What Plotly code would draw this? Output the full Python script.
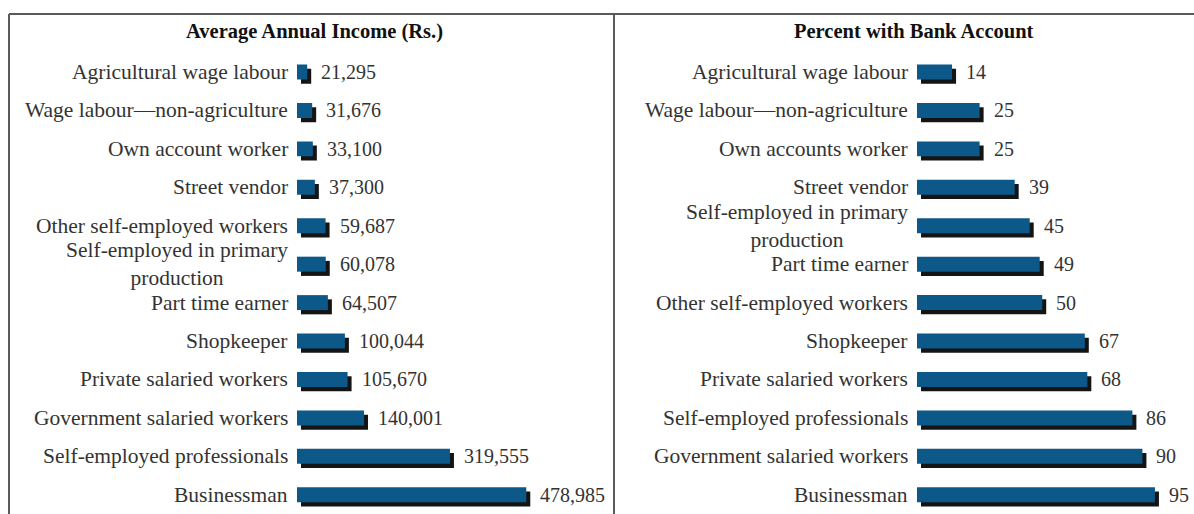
import plotly.graph_objects as go

W, H = 1194, 514

# ---- data ----
income_labels = [
    "Agricultural wage labour",
    "Wage labour\u2014non-agriculture",
    "Own account worker",
    "Street vendor",
    "Other self-employed workers",
    "Self-employed in primary<br>production",
    "Part time earner",
    "Shopkeeper",
    "Private salaried workers",
    "Government salaried workers",
    "Self-employed professionals",
    "Businessman",
]
income_values = [21295, 31676, 33100, 37300, 59687, 60078, 64507,
                 100044, 105670, 140001, 319555, 478985]

bank_labels = [
    "Agricultural wage labour",
    "Wage labour\u2014non-agriculture",
    "Own accounts worker",
    "Street vendor",
    "Self-employed in primary<br>production",
    "Part time earner",
    "Other self-employed workers",
    "Shopkeeper",
    "Private salaried workers",
    "Self-employed professionals",
    "Government salaried workers",
    "Businessman",
]
bank_values = [14, 25, 25, 39, 45, 49, 50, 67, 68, 86, 90, 95]

titles = ["Average Annual Income (Rs.)", "Percent with Bank Account"]

# ---- style ----
FONT = "Liberation Serif"
BAR = "#0c5889"
SHADOW = "#141414"
TEXT = "#333333"
FRAME = "#5a5a5a"

L_DOM = [297 / W, 600 / W]
L_MAX = 633000
R_DOM = [917 / W, 1.0]
R_MAX = 110.6
Y_DOM = [0, 0.8973]
ROW_W = 0.39          # bar thickness in category units
SHADOW_DY = 0.11      # downward shift of the drop shadow (category units)
SHADOW_PX = 4         # rightward shift of the drop shadow (pixels)


def px_units(px, dom, rmax):
    return px * rmax / ((dom[1] - dom[0]) * W)


fig = go.Figure()

panels = [
    (income_labels, income_values, "x", "y", L_DOM, L_MAX, lambda v: f"{v:,}"),
    (bank_labels, bank_values, "x2", "y2", R_DOM, R_MAX, lambda v: f"{v}"),
]

annotations = []
for labels, values, xa, ya, dom, rmax, fmt in panels:
    dx = px_units(SHADOW_PX, dom, rmax)
    fig.add_trace(go.Bar(
        x=values, y=labels, base=dx, orientation="h",
        width=ROW_W, offset=-ROW_W / 2 + SHADOW_DY,
        marker=dict(color=SHADOW, line=dict(width=0)),
        xaxis=xa, yaxis=ya, hoverinfo="skip", showlegend=False,
    ))
    fig.add_trace(go.Bar(
        x=values, y=labels, orientation="h",
        width=ROW_W, offset=-ROW_W / 2,
        marker=dict(color=BAR, line=dict(width=0)),
        xaxis=xa, yaxis=ya, showlegend=False,
    ))
    for lab, v in zip(labels, values):
        annotations.append(dict(
            x=0, y=lab, xref=xa, yref=ya, text=lab, showarrow=False,
            xanchor="right", yanchor="middle", align="center", xshift=-7,
            font=dict(family=FONT, size=21.5, color=TEXT),
        ))
        annotations.append(dict(
            x=v, y=lab, xref=xa, yref=ya, text=fmt(v), showarrow=False,
            xanchor="left", yanchor="middle", xshift=12,
            font=dict(family=FONT, size=20, color=TEXT),
        ))

for t, cx in zip(titles, [314 / W, 914 / W]):
    annotations.append(dict(
        x=cx, y=1 - 31 / H, xref="paper", yref="paper", text=t,
        showarrow=False, xanchor="center", yanchor="middle",
        font=dict(family=FONT, size=20.5, color="#111111", weight="bold"),
    ))

axis_off = dict(showgrid=False, zeroline=False, showticklabels=False,
                ticks="", showline=False, fixedrange=True)

fig.update_layout(
    width=W, height=H,
    margin=dict(l=0, r=0, t=0, b=0),
    paper_bgcolor="white", plot_bgcolor="rgba(0,0,0,0)",
    barmode="overlay",
    xaxis=dict(domain=L_DOM, range=[0, L_MAX], anchor="y", **axis_off),
    yaxis=dict(domain=Y_DOM, range=[11.5, -0.5], anchor="x", type="category", **axis_off),
    xaxis2=dict(domain=R_DOM, range=[0, R_MAX], anchor="y2", **axis_off),
    yaxis2=dict(domain=Y_DOM, range=[11.5, -0.5], anchor="x2", type="category", **axis_off),
    annotations=annotations,
    shapes=[
        dict(type="line", xref="paper", yref="paper", x0=9 / W, x1=1,
             y0=1 - 14 / H, y1=1 - 14 / H, line=dict(color=FRAME, width=2)),
        dict(type="line", xref="paper", yref="paper", x0=9 / W, x1=9 / W,
             y0=0, y1=1 - 14 / H, line=dict(color=FRAME, width=2)),
        dict(type="line", xref="paper", yref="paper", x0=614 / W, x1=614 / W,
             y0=0, y1=1 - 14 / H, line=dict(color=FRAME, width=2)),
    ],
)

fig.write_html("out.html")
